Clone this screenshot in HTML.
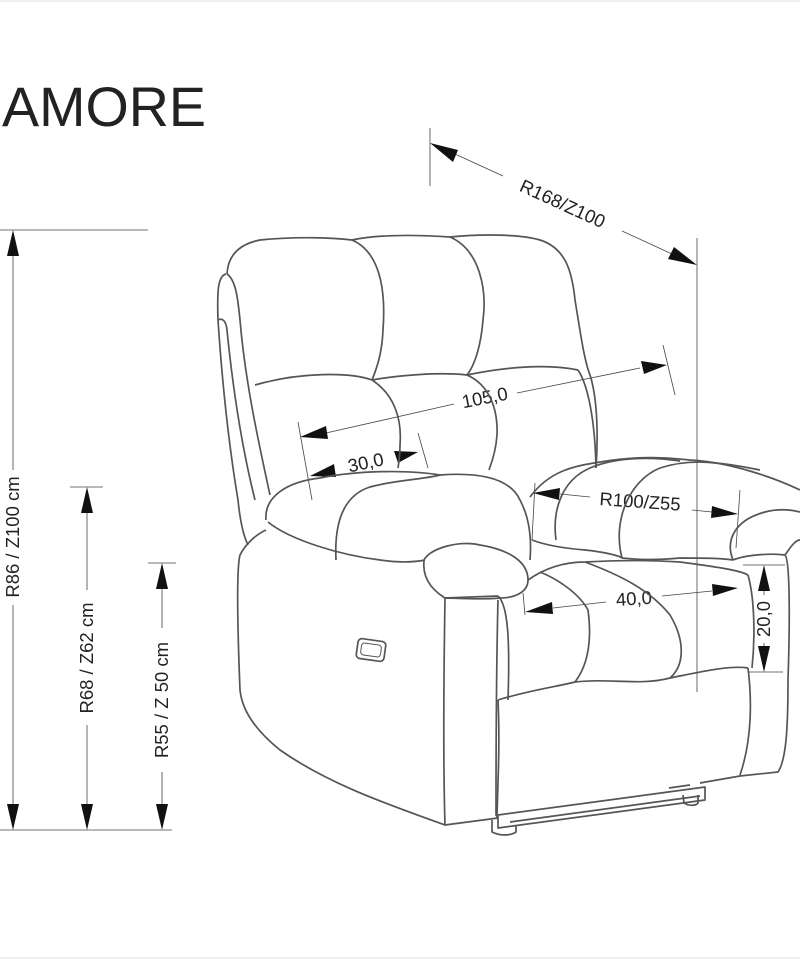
<!DOCTYPE html>
<html><head><meta charset="utf-8"><style>
html,body{margin:0;padding:0;background:#fff}
svg{display:block}
text{font-family:"Liberation Sans",sans-serif;fill:#222}
</style></head><body>
<svg width="800" height="960" viewBox="0 0 800 960" xmlns="http://www.w3.org/2000/svg">
<line x1="0" y1="1" x2="800" y2="1" stroke="#ddd"/>
<line x1="0" y1="958" x2="800" y2="958" stroke="#ddd"/>
<text x="2" y="126" font-size="56" textLength="204" lengthAdjust="spacingAndGlyphs" style="fill:#222">AMORE</text>

<g stroke="#444" stroke-width="0.8" fill="none">
<line x1="0" y1="230" x2="148" y2="230"/>
<line x1="0" y1="830" x2="172" y2="830"/>
<line x1="70" y1="487" x2="103" y2="487"/>
<line x1="148" y1="563" x2="176" y2="563"/>
<line x1="13" y1="256" x2="13" y2="470"/><line x1="13" y1="605" x2="13" y2="804"/>
<line x1="87" y1="513" x2="87" y2="590"/><line x1="87" y1="725" x2="87" y2="804"/>
<line x1="162" y1="589" x2="162" y2="628"/><line x1="162" y1="772" x2="162" y2="804"/>
<line x1="430" y1="128" x2="430" y2="186"/>
<line x1="697" y1="238" x2="697" y2="692"/>
<line x1="455" y1="154" x2="503" y2="176"/><line x1="622" y1="231" x2="672" y2="254"/>
<line x1="298" y1="422" x2="312" y2="500"/>
<line x1="663" y1="345" x2="675" y2="395"/>
<line x1="418" y1="433" x2="428" y2="468"/>
<line x1="326" y1="433" x2="454" y2="404"/><line x1="517" y1="393" x2="640" y2="368"/>
<line x1="535" y1="483" x2="532" y2="540"/>
<line x1="740" y1="490" x2="736" y2="548"/>
<line x1="560" y1="494" x2="590" y2="497"/><line x1="692" y1="510" x2="712" y2="512"/>
<line x1="553" y1="608" x2="606" y2="602"/><line x1="662" y1="596" x2="712" y2="591"/>
<line x1="523" y1="593" x2="525" y2="615"/>
<line x1="743" y1="565" x2="785" y2="565"/>
<line x1="748" y1="672" x2="783" y2="672"/>
<line x1="764" y1="591" x2="764" y2="595"/><line x1="764" y1="643" x2="764" y2="646"/>
</g>
<g fill="#111">
<path d="M13,230 L7,256 L19,256z"/><path d="M13,830 L7,804 L19,804z"/>
<path d="M87,487 L81,513 L93,513z"/><path d="M87,830 L81,804 L93,804z"/>
<path d="M162,563 L156,589 L168,589z"/><path d="M162,830 L156,804 L168,804z"/>
<path d="M430,143 L458,150 L453,162z"/><path d="M697,265 L668,259 L674,247z"/>
<path d="M300,437 L326,426 L328,439z"/><path d="M667,365 L641,361 L644,374z"/>
<path d="M310,476 L334,464 L336,477z"/><path d="M418,452 L394,451 L398,463z"/>
<path d="M533,493 L560,488 L559,500z"/><path d="M738,514 L712,506 L711,518z"/>
<path d="M525,612 L552,602 L553,614z"/><path d="M738,588 L712,584 L713,596z"/>
<path d="M764,565 L758,591 L770,591z"/><path d="M764,672 L758,646 L770,646z"/>
</g>
<g font-size="18.5">
<text transform="translate(14,537) rotate(-90)" text-anchor="middle" dominant-baseline="middle">R86 / Z100 cm</text>
<text transform="translate(88,658) rotate(-90)" text-anchor="middle" dominant-baseline="middle">R68 / Z62 cm</text>
<text transform="translate(163,700) rotate(-90)" text-anchor="middle" dominant-baseline="middle">R55 / Z 50 cm</text>
<text transform="translate(562,205) rotate(24.5)" text-anchor="middle" dominant-baseline="middle">R168/Z100</text>
<text transform="translate(485,399) rotate(-11)" text-anchor="middle" dominant-baseline="middle">105,0</text>
<text transform="translate(366,464) rotate(-12)" text-anchor="middle" dominant-baseline="middle">30,0</text>
<text transform="translate(640,503) rotate(4)" text-anchor="middle" dominant-baseline="middle">R100/Z55</text>
<text transform="translate(634,600) rotate(-4)" text-anchor="middle" dominant-baseline="middle">40,0</text>
<text transform="translate(765,619) rotate(-90)" text-anchor="middle" dominant-baseline="middle">20,0</text>
</g>

<g stroke="#555" stroke-width="1.7" fill="none" stroke-linejoin="round">
<path d="M227,274 C228,255 240,244 260,240 C300,236 335,238 352,240 C380,234 420,235 450,237 C480,234 520,234 540,240 C565,248 572,270 575,300 C580,330 584,360 590,375 C598,400 598,440 596,468"/>
<path d="M352,240 C380,252 386,290 383,330 C382,355 376,370 372,380"/>
<path d="M450,237 C480,250 487,290 483,320 C481,345 475,365 467,375"/>
<path d="M255,385 C300,372 350,372 372,380 C400,375 440,372 467,375 C500,368 545,363 578,370"/>
<path d="M372,380 C395,395 402,420 400,445 C400,455 399,462 398,468"/>
<path d="M467,375 C490,385 498,410 497,435 C496,450 492,462 489,470"/>
<path d="M578,370 C588,385 595,420 596,468"/>
<path d="M226,274 C218,276 217,290 218,320 C222,380 228,440 238,500 C240,520 243,535 248,545"/>
<path d="M227,274 C236,280 238,300 240,320 C245,380 258,440 270,495"/>
<path d="M218,320 C222,318 226,320 227,330 C232,380 240,440 255,500"/>
<path d="M266,520 C264,498 285,482 320,478 C360,470 410,470 440,475 C480,472 510,478 520,500 C528,515 532,535 530,560"/>
<path d="M268,522 C290,540 340,555 380,560 C400,563 415,562 425,560"/>
<path d="M336,560 C334,520 345,495 370,487 C395,480 420,480 440,475"/>
<path d="M424,560 C430,548 460,540 480,545 C510,550 528,562 528,580 C528,592 515,598 500,598 C480,600 455,598 445,598"/>
<path d="M424,560 C422,578 432,590 445,598"/>
<path d="M266,530 C255,535 245,545 240,555 C236,570 238,640 240,690 C242,710 255,730 280,750 C330,785 390,805 445,825"/>
<path d="M445,598 C444,660 443,760 445,825 L498,818"/>
<path d="M498,600 C496,680 496,760 496,815 L498,818"/>
<path d="M445,598 L498,596"/>
<path d="M498,596 C508,605 510,640 508,700"/>
<rect x="357" y="640" width="28" height="20" rx="4" transform="rotate(8 371 650)"/>
<rect x="361" y="644" width="20" height="12" rx="3" transform="rotate(8 371 650)" stroke-width="1"/>
<path d="M530,497 C550,470 575,466 600,462 C640,455 670,458 690,460 C730,462 775,478 800,490"/>
<path d="M556,540 C552,510 562,480 590,468 C620,455 660,458 680,461"/>
<path d="M622,558 C612,520 630,480 660,468 C690,458 720,462 760,470"/>
<path d="M532,540 C545,545 560,548 585,550 C605,552 620,556 622,558 C640,560 660,560 680,558 C700,558 720,558 733,560"/>
<path d="M733,560 C725,540 735,520 765,512 C780,508 792,510 800,512"/>
<path d="M733,560 C745,555 770,553 785,555 C790,560 790,620 788,680 C788,730 786,760 778,772 L740,776 L700,783"/>
<path d="M785,555 C790,548 795,540 800,540"/>
<path d="M528,580 C545,568 565,562 585,562 C620,560 650,560 680,562 C710,566 740,570 748,575"/>
<path d="M540,572 C560,580 580,595 588,610 C592,640 588,665 575,682"/>
<path d="M585,562 C620,575 650,590 670,615 C685,640 685,665 670,678"/>
<path d="M498,700 C530,690 560,686 575,682 C610,678 640,686 670,678 C700,672 730,665 748,668"/>
<path d="M748,575 C755,600 755,640 752,668"/>
<path d="M498,700 C500,740 498,780 497,815"/>
<path d="M748,668 C752,700 752,740 740,775"/>
<path d="M498,815 L705,787 L705,800 L498,828z"/>
<path d="M510,822 L700,796"/>
<path d="M492,820 L492,832 C500,836 510,836 516,832 L516,825"/>
<path d="M683,795 L684,803 C688,806 696,806 698,803 L698,795"/>
<path d="M669,788 L690,785"/>
</g>
</svg>
</body></html>
